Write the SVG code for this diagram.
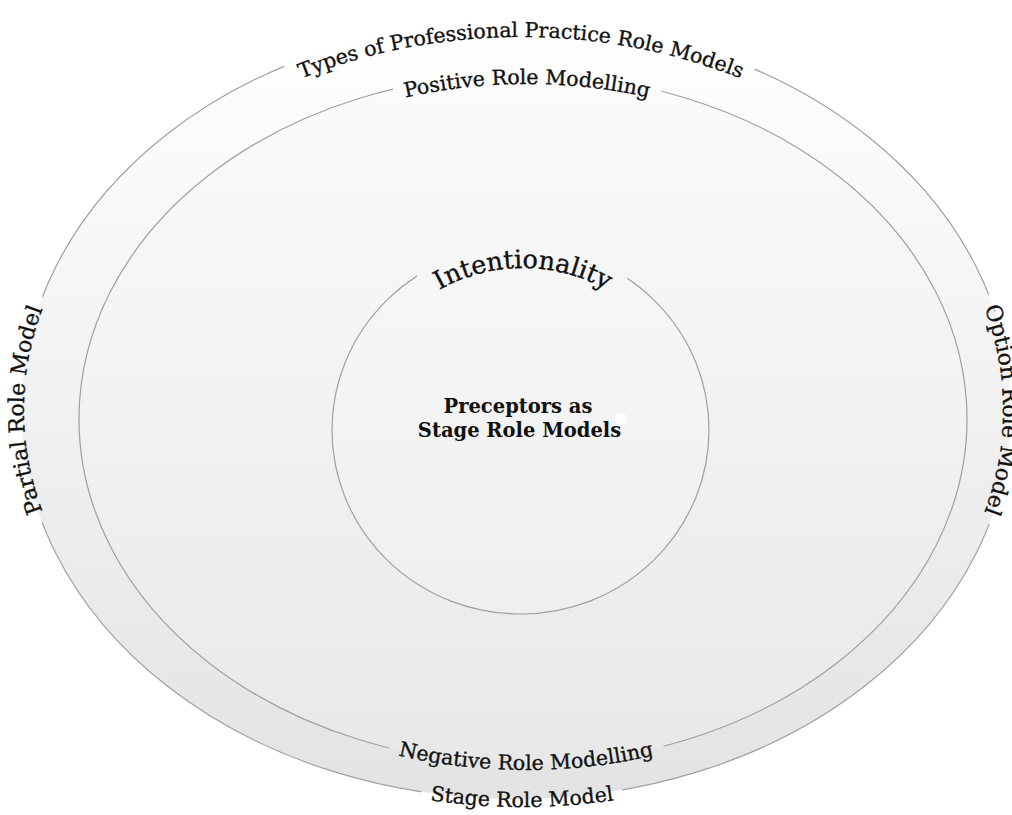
<svg xmlns="http://www.w3.org/2000/svg" xmlns:xlink="http://www.w3.org/1999/xlink" width="1012" height="815" viewBox="0 0 1012 815">
  <style>
    .ring { fill: none; stroke: #a0a0a0; stroke-width: 1.2; }
    .lbl { font-family: "DejaVu Serif", "Liberation Serif", serif; font-size: 20.5px; text-anchor: middle; }
    .side { font-size: 22px; }
    .big { font-size: 25.5px; }
    .ink { fill: #111; stroke: #111; stroke-width: 0.35; }
    .cut { fill: #000; stroke: #000; stroke-width: 24; stroke-linejoin: round; }
    .cutwide { stroke-width: 30; }
    .core { font-family: "DejaVu Serif", "Liberation Serif", serif; font-size: 19.5px; font-weight: bold; fill: #111; text-anchor: middle; }
  </style>
  <defs>
    <linearGradient id="gOuter" x1="0" y1="0" x2="0" y2="1">
      <stop offset="0" stop-color="#ffffff"/>
      <stop offset="1" stop-color="#e3e3e3"/>
    </linearGradient>
    <linearGradient id="gMid" x1="0" y1="0" x2="0" y2="1">
      <stop offset="0" stop-color="#fbfbfb"/>
      <stop offset="1" stop-color="#e8e8e8"/>
    </linearGradient>
    <linearGradient id="gCore" x1="0" y1="0" x2="0" y2="1">
      <stop offset="0" stop-color="#f7f7f7"/>
      <stop offset="1" stop-color="#efefef"/>
    </linearGradient>

    <!-- baseline arcs for the curved labels -->
    <path id="pTitle" d="M 70.9 282.4 A 479 373 0 0 1 971.1 282.4"/>
    <path id="pLeft" d="M 270 732.2 A 492 372 0 0 1 270 87.8"/>
    <path id="pRight" d="M 759.5 87.8 A 487 372 0 0 1 759.5 732.2"/>
    <path id="pBottom" d="M 89 608.5 A 500 397 0 0 0 955 608.5"/>
    <path id="pPos" d="M 119.2 304.4 A 434 335 0 0 1 934.8 304.4"/>
    <path id="pNeg" d="M 136.3 594.5 A 450 351 0 0 0 915.7 594.5"/>
    <path id="pInt" d="M 367 374.6 A 166 162 0 0 1 679 374.6"/>

    <!-- label texts, painted through <use> -->
    <text id="tTitle" class="lbl"><textPath xlink:href="#pTitle" startOffset="50%">Types of Professional Practice Role Models</textPath></text>
    <text id="tLeft" class="lbl side"><textPath xlink:href="#pLeft" startOffset="50%">Partial Role Model</textPath></text>
    <text id="tRight" class="lbl side"><textPath xlink:href="#pRight" startOffset="50%">Option Role Model</textPath></text>
    <text id="tBottom" class="lbl"><textPath xlink:href="#pBottom" startOffset="50%">Stage Role Model</textPath></text>
    <text id="tPos" class="lbl"><textPath xlink:href="#pPos" startOffset="50%">Positive Role Modelling</textPath></text>
    <text id="tNeg" class="lbl"><textPath xlink:href="#pNeg" startOffset="50%">Negative Role Modelling</textPath></text>
    <text id="tInt" class="lbl big"><textPath xlink:href="#pInt" startOffset="50%">Intentionality</textPath></text>

    <!-- ring outlines break where a label crosses them -->
    <mask id="mOuter" maskUnits="userSpaceOnUse" x="0" y="0" width="1012" height="815">
      <rect width="1012" height="815" fill="#fff"/>
      <use xlink:href="#tTitle" class="cut"/>
      <use xlink:href="#tLeft" class="cut"/>
      <use xlink:href="#tRight" class="cut"/>
      <use xlink:href="#tBottom" class="cut"/>
    </mask>
    <mask id="mMid" maskUnits="userSpaceOnUse" x="0" y="0" width="1012" height="815">
      <rect width="1012" height="815" fill="#fff"/>
      <use xlink:href="#tPos" class="cut"/>
      <use xlink:href="#tNeg" class="cut"/>
    </mask>
    <mask id="mCore" maskUnits="userSpaceOnUse" x="0" y="0" width="1012" height="815">
      <rect width="1012" height="815" fill="#fff"/>
      <use xlink:href="#tInt" class="cut cutwide"/>
    </mask>
  </defs>

  <rect width="1012" height="815" fill="#ffffff"/>

  <!-- outer ring: types of role models -->
  <g id="outer">
    <ellipse cx="516" cy="410" rx="495" ry="389" fill="url(#gOuter)"/>
    <ellipse class="ring" cx="516" cy="410" rx="495" ry="389" mask="url(#mOuter)"/>
    <use xlink:href="#tTitle" class="ink"/>
    <use xlink:href="#tLeft" class="ink"/>
    <use xlink:href="#tRight" class="ink"/>
    <use xlink:href="#tBottom" class="ink"/>
  </g>

  <!-- middle ring: positive / negative modelling -->
  <g id="middle">
    <ellipse cx="523" cy="419" rx="444" ry="345" fill="url(#gMid)"/>
    <ellipse class="ring" cx="523" cy="419" rx="444" ry="345" mask="url(#mMid)"/>
    <use xlink:href="#tPos" class="ink"/>
    <use xlink:href="#tNeg" class="ink"/>
  </g>

  <!-- core circle -->
  <g id="core">
    <ellipse cx="520.5" cy="430" rx="188.5" ry="184" fill="url(#gCore)"/>
    <ellipse class="ring" cx="520.5" cy="430" rx="188.5" ry="184" stroke="#999" mask="url(#mCore)"/>
    <use xlink:href="#tInt" class="ink"/>
    <text class="core" x="518" y="413">Preceptors as</text>
    <text class="core" x="519.5" y="437">Stage Role Models</text>
    <circle cx="621" cy="419" r="6" fill="#ffffff"/>
  </g>
</svg>
